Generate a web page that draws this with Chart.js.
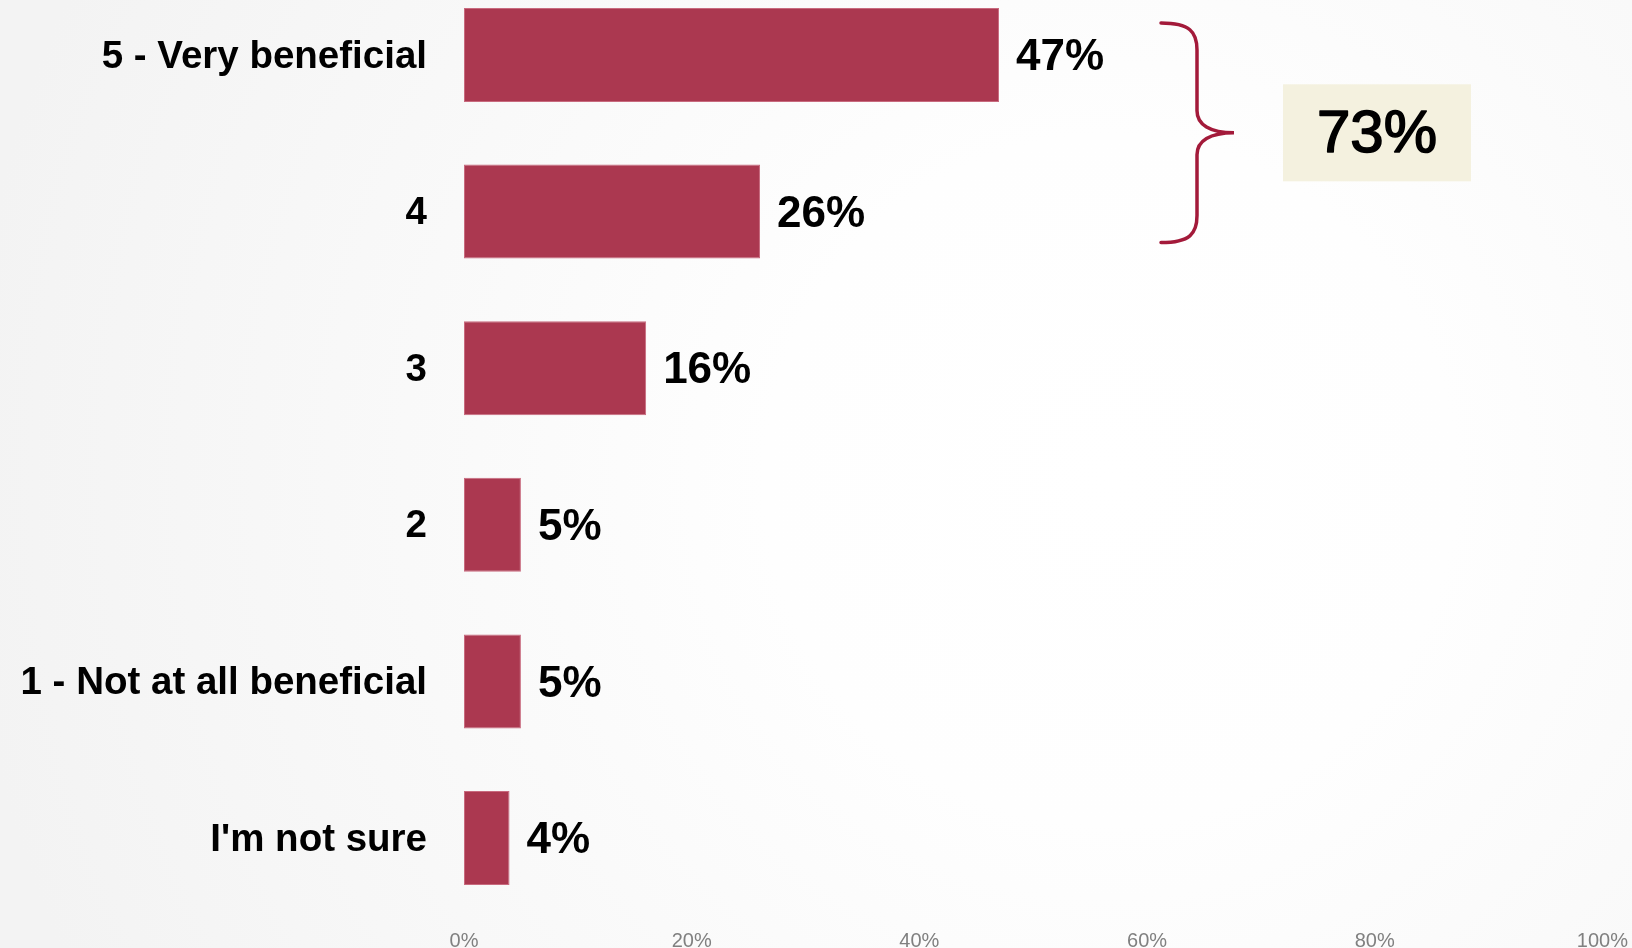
<!DOCTYPE html>
<html>
<head>
<meta charset="utf-8">
<script src="https://cdn.jsdelivr.net/npm/chart.js@4/dist/chart.umd.min.js"></script>
<style>
  html, body { margin: 0; padding: 0; background: #f4f4f4; }
  canvas { display: block; }
</style>
</head>
<body>
<canvas id="benefit" width="1632" height="948"></canvas>
<script>
"use strict";

// survey answers, top to bottom
const categories = ['5 - Very beneficial', '4', '3', '2', '1 - Not at all beneficial', "I'm not sure"];
const shares = [47, 26, 16, 5, 5, 4];
// how many of the top answers the bracket groups together
const groupedTop = 2;

const BAR = '#ab3850';
const BRACE = '#a31a3a';

// soft radial backdrop
const backdrop = {
    id: 'backdrop',
    beforeDraw(chart) {
        const { ctx, width, height } = chart;
        const g = ctx.createRadialGradient(1110, 480, 0, 1110, 480, 1150);
        g.addColorStop(0, '#ffffff');
        g.addColorStop(0.3, '#fefefe');
        g.addColorStop(0.55, '#fafafa');
        g.addColorStop(1, '#f3f3f3');
        ctx.save();
        ctx.fillStyle = g;
        ctx.fillRect(0, 0, width, height);
        ctx.restore();
    }
};

// value text to the right of every bar
const valueLabels = {
    id: 'valueLabels',
    afterDatasetsDraw(chart) {
        const { ctx } = chart;
        const meta = chart.getDatasetMeta(0);
        ctx.save();
        ctx.font = 'bold 44px "Liberation Sans", Arial, sans-serif';
        ctx.fillStyle = '#000';
        ctx.textAlign = 'left';
        ctx.textBaseline = 'middle';
        meta.data.forEach((bar, i) => {
            ctx.fillText(shares[i] + '%', bar.x + 17, bar.y + 3);
        });
        ctx.restore();
    }
};

// curly bracket over the top answers plus their combined share
const topBox = {
    id: 'topBox',
    afterDraw(chart) {
        const { ctx } = chart;
        const y = chart.scales.y;
        const top = y.getPixelForValue(0) - 32;
        const bottom = y.getPixelForValue(groupedTop - 1) + 31;
        const mid = (top + bottom) / 2;
        const x0 = 1161, x1 = 1197, tip = 1234;

        ctx.save();
        ctx.strokeStyle = BRACE;
        ctx.lineWidth = 3.5;
        ctx.lineCap = 'round';
        ctx.beginPath();
        ctx.moveTo(x0, top);
        ctx.bezierCurveTo(x0 + 29, top, x1, top + 9, x1, top + 27);
        ctx.lineTo(x1, mid - 22);
        ctx.bezierCurveTo(x1, mid - 8, x1 + 13, mid, tip, mid);
        ctx.bezierCurveTo(x1 + 13, mid, x1, mid + 8, x1, mid + 22);
        ctx.lineTo(x1, bottom - 27);
        ctx.bezierCurveTo(x1, bottom - 9, x0 + 29, bottom, x0, bottom);
        ctx.stroke();

        const total = shares.slice(0, groupedTop).reduce((a, b) => a + b, 0);
        const bw = 188, bh = 97;
        const bx = 1283, by = mid - bh / 2;
        ctx.fillStyle = '#f4f1df';
        ctx.fillRect(bx, by, bw, bh);
        ctx.fillStyle = '#000';
        ctx.strokeStyle = '#000';
        ctx.lineWidth = 1.6;
        ctx.lineJoin = 'round';
        ctx.font = '60px "Liberation Sans", Arial, sans-serif';
        ctx.textAlign = 'center';
        ctx.textBaseline = 'middle';
        ctx.fillText(total + '%', bx + bw / 2, mid + 3);
        ctx.strokeText(total + '%', bx + bw / 2, mid + 3);
        ctx.restore();
    }
};

new Chart(document.getElementById('benefit'), {
    type: 'bar',
    data: {
        labels: categories,
        datasets: [{
            data: shares,
            backgroundColor: BAR,
            borderColor: '#c86a7e',
            borderWidth: 1,
            borderSkipped: false,
            categoryPercentage: 1,
            barPercentage: 0.6,
            clip: false
        }]
    },
    options: {
        indexAxis: 'y',
        responsive: false,
        animation: false,
        layout: { padding: { top: 55, left: 0, right: 0, bottom: 0 } },
        plugins: {
            legend: { display: false },
            tooltip: { enabled: false }
        },
        scales: {
            x: {
                min: 0,
                max: 100,
                // tick marks stay hidden; their length only pushes the labels down
                grid: { display: false, drawTicks: true, tickLength: 87, tickColor: 'transparent' },
                border: { display: false },
                ticks: {
                    stepSize: 20,
                    padding: 4,
                    color: '#808080',
                    font: { family: '"Liberation Sans", Arial, sans-serif', size: 20 },
                    callback: v => v + '%'
                },
                afterFit(scale) { scale.height = 110; }
            },
            y: {
                offset: false,
                grid: { display: false, drawTicks: false },
                border: { display: false },
                ticks: {
                    padding: 37,
                    labelOffset: 2,
                    color: '#000',
                    font: { family: '"Liberation Sans", Arial, sans-serif', size: 38.5, weight: 'bold' }
                },
                afterFit(scale) {
                    scale.width = 464;
                    // bars are allowed to spill past the plot edges
                    scale.paddingTop = 0;
                    scale.paddingBottom = 0;
                }
            }
        }
    },
    plugins: [backdrop, valueLabels, topBox]
});
</script>
</body>
</html>
